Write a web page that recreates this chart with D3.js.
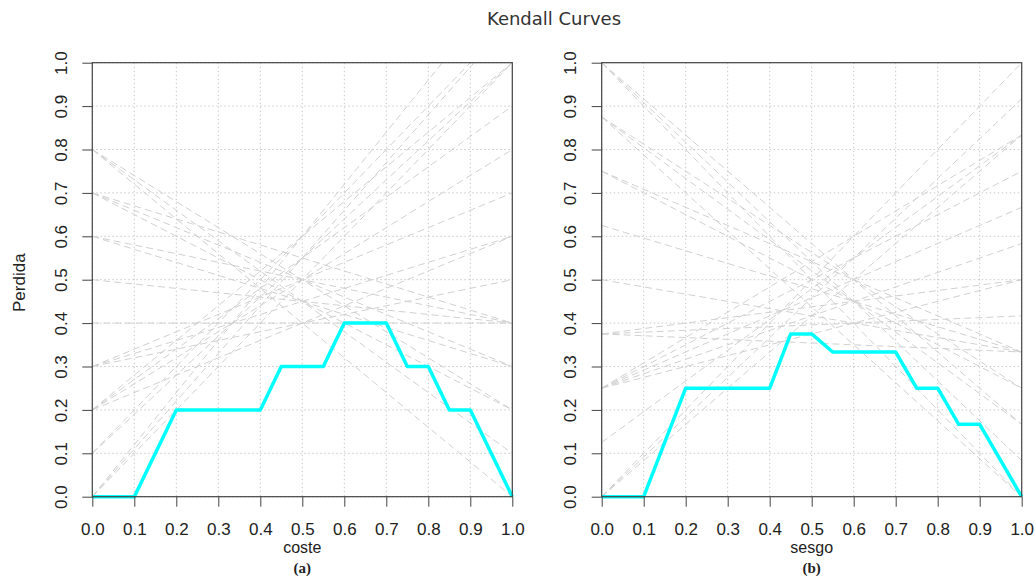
<!DOCTYPE html>
<html>
<head>
<meta charset="utf-8">
<script src="https://cdn.jsdelivr.net/npm/d3@7"></script>
<style>
  html, body { margin: 0; padding: 0; background: #fff; }
  svg { display: block; }
</style>
</head>
<body>
<svg id="chart" width="1035" height="581"></svg>
<script>
// ---------- data ----------
const title = "Kendall Curves";
const yLabel = "Perdida";
const ticks = [0.0, 0.1, 0.2, 0.3, 0.4, 0.5, 0.6, 0.7, 0.8, 0.9, 1.0];
const tickLabels = ["0.0","0.1","0.2","0.3","0.4","0.5","0.6","0.7","0.8","0.9","1.0"];

// Panel (a): coste
const xLabelA = "coste";
const captionA = "(a)";
// cost lines: loss at x=0 and loss at x=1
const linesAStart = [0.8, 0.8, 0.8, 0.7, 0.7, 0.7, 0.6, 0.6, 0.5, 0.4, 0.3, 0.3, 0.3, 0.2, 0.2, 0.2, 0.2, 0.1, 0.1, 0.0, 0.0, 0.0];
const linesAEnd   = [0.0, 0.1, 0.2, 0.2, 0.3, 0.4, 0.3, 0.4, 0.4, 0.4, 0.5, 0.6, 0.7, 0.6, 0.8, 0.9, 1.0, 1.0, 1.1, 1.0, 1.1, 1.2];
const kendallAX = [0.0, 0.1, 0.2, 0.4, 0.45, 0.55, 0.6, 0.7, 0.75, 0.8, 0.85, 0.9, 1.0];
const kendallAY = [0.0, 0.0, 0.2, 0.2, 0.3, 0.3, 0.4, 0.4, 0.3, 0.3, 0.2, 0.2, 0.0];

// Panel (b): sesgo
const xLabelB = "sesgo";
const captionB = "(b)";
const linesBStart = [1.0, 1.0, 1.0, 0.875, 0.875, 0.875, 0.75, 0.75, 0.625, 0.5, 0.375, 0.375, 0.375, 0.25, 0.25, 0.25, 0.25, 0.25, 0.125, 0.0, 0.0, 0.0];
const linesBEnd   = [0.0, 0.0833, 0.1667, 0.0, 0.1667, 0.25, 0.25, 0.3333, 0.3333, 0.3333, 0.3333, 0.4167, 0.5, 0.5, 0.5833, 0.6667, 0.75, 0.8333, 0.8333, 0.8333, 0.9167, 1.0];
const kendallBX = [0.0, 0.1, 0.2, 0.4, 0.45, 0.5, 0.55, 0.7, 0.75, 0.8, 0.85, 0.9, 1.0];
const kendallBY = [0.0, 0.0, 0.25, 0.25, 0.375, 0.375, 0.3333, 0.3333, 0.25, 0.25, 0.1667, 0.1667, 0.0];

// ---------- drawing ----------
const svg = d3.select("#chart");
const plotTop = 62.7, plotBottom = 496.7;
const axisColor = "#444";
const textColor = "#222";
const sans = "'Liberation Sans', Arial, sans-serif";
const fs = 17;

svg.append("text")
  .attr("x", 554).attr("y", 25)
  .attr("text-anchor", "middle")
  .attr("font-family", "'DejaVu Sans', sans-serif")
  .attr("font-size", 18)
  .attr("fill", "#333")
  .text(title);

function panel(id, left, right, starts, ends, kx, ky, xLab, cap, showY) {
  const x = d3.scaleLinear().domain([0, 1]).range([left, right]);
  const y = d3.scaleLinear().domain([0, 1]).range([plotBottom, plotTop]);
  const g = svg.append("g");

  g.append("clipPath").attr("id", "clip" + id)
    .append("rect").attr("x", left).attr("y", plotTop)
    .attr("width", right - left).attr("height", plotBottom - plotTop);

  // grid
  const grid = g.append("g");
  grid.selectAll("line.gx").data(ticks).join("line").attr("class", "gx")
    .attr("x1", d => x(d)).attr("x2", d => x(d))
    .attr("y1", plotTop).attr("y2", plotBottom)
    .attr("stroke", "#c8c8c8").attr("stroke-width", 1)
    .attr("stroke-dasharray", "1.5,2.5");
  grid.selectAll("line.gy").data(ticks).join("line").attr("class", "gy")
    .attr("y1", d => y(d)).attr("y2", d => y(d))
    .attr("x1", left).attr("x2", right)
    .attr("stroke", "#c8c8c8").attr("stroke-width", 1)
    .attr("stroke-dasharray", "1.5,2.5");

  // cost lines
  const lines = starts.map((s, i) => [[0, s], [1, ends[i]]]);
  const lineGen = d3.line().x(d => x(d[0])).y(d => y(d[1]));
  g.append("g").attr("clip-path", `url(#clip${id})`)
    .selectAll("path").data(lines).join("path")
    .attr("d", lineGen)
    .attr("fill", "none")
    .attr("stroke", "#d0d0d0")
    .attr("stroke-width", 1)
    .attr("stroke-dasharray", "7,4");

  // Kendall curve
  const kpts = kx.map((v, i) => [v, ky[i]]);
  g.append("path").datum(kpts)
    .attr("d", lineGen)
    .attr("fill", "none")
    .attr("stroke", "#00ffff")
    .attr("stroke-width", 3.5)
    .attr("stroke-linejoin", "round");

  // box
  g.append("rect").attr("x", left).attr("y", plotTop)
    .attr("width", right - left).attr("height", plotBottom - plotTop)
    .attr("fill", "none").attr("stroke", axisColor).attr("stroke-width", 1.2);

  // axes
  const xAxis = d3.axisBottom(x).tickValues(ticks)
    .tickFormat((d, i) => tickLabels[i]).tickSize(10).tickPadding(16);
  const xa = g.append("g").attr("transform", `translate(0,${plotBottom})`).call(xAxis);
  xa.select(".domain").remove();
  xa.selectAll("line").attr("stroke", axisColor);
  xa.selectAll("text").attr("font-family", sans).attr("font-size", fs).attr("fill", textColor);

  const yAxis = d3.axisLeft(y).tickValues(ticks)
    .tickFormat((d, i) => tickLabels[i]).tickSize(10);
  const ya = g.append("g").attr("transform", `translate(${left},0)`).call(yAxis);
  ya.select(".domain").remove();
  ya.selectAll("line").attr("stroke", axisColor);
  ya.selectAll("text")
    .attr("font-family", sans).attr("font-size", fs).attr("fill", textColor)
    .attr("text-anchor", "middle")
    .attr("dy", null)
    .attr("x", null)
    .attr("transform", "translate(-31,0) rotate(-90)")
    .attr("dominant-baseline", "central");

  // labels
  const cx = (left + right) / 2;
  g.append("text").attr("x", cx).attr("y", 553)
    .attr("text-anchor", "middle")
    .attr("font-family", sans).attr("font-size", 16).attr("fill", textColor)
    .text(xLab);
  g.append("text").attr("x", cx).attr("y", 573)
    .attr("text-anchor", "middle")
    .attr("font-family", "'Liberation Serif', 'Times New Roman', serif")
    .attr("font-weight", "bold")
    .attr("font-size", 15).attr("fill", textColor)
    .text(cap);

  if (showY) {
    g.append("text")
      .attr("transform", `translate(25,${(plotTop + plotBottom) / 2 + 3}) rotate(-90)`)
      .attr("text-anchor", "middle")
      .attr("font-family", sans).attr("font-size", fs).attr("fill", textColor)
      .text(yLabel);
  }
}

panel("A", 92.3, 512.3, linesAStart, linesAEnd, kendallAX, kendallAY, xLabelA, captionA, true);
panel("B", 601.7, 1021.7, linesBStart, linesBEnd, kendallBX, kendallBY, xLabelB, captionB, false);
</script>
</body>
</html>
